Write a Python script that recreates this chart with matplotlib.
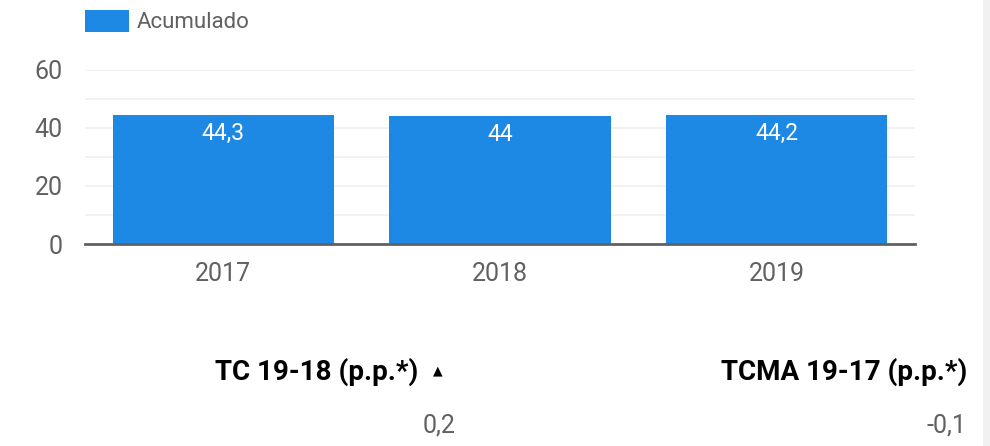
import matplotlib
matplotlib.use("Agg")
import matplotlib.pyplot as plt
from matplotlib.patches import Rectangle

categories = ["2017", "2018", "2019"]
values = [44.3, 44.0, 44.2]
value_labels = ["44,3", "44", "44,2"]
series_name = "Acumulado"
yticks = [0, 20, 40, 60]
kpi_titles = ["TC 19-18 (p.p.*)", "TCMA 19-17 (p.p.*)"]
kpi_values = ["0,2", "-0,1"]

BLUE = "#1e88e5"
GRAY = "#616161"

plt.rcParams['font.family'] = ['Roboto', 'DejaVu Sans']

fig = plt.figure(figsize=(9.9, 4.46), dpi=100)
fig.patch.set_facecolor("white")
fig.patches.append(Rectangle((983/990, 0), 7/990, 1, transform=fig.transFigure,
                             facecolor="#f1f1f1", edgecolor="none"))

ax = fig.add_axes([85/990, (446-244)/446, 830/990, (244-69.5)/446])
x = range(len(categories))
bars = ax.bar(x, values, width=0.8, color=BLUE, zorder=3, label=series_name)
ax.set_xlim(-0.5, 2.5)
ax.set_ylim(0, 60)
ax.set_yticks(yticks)
ax.set_yticks(range(0, 61, 10), minor=True)
ax.grid(axis="y", which="both", color="#f0f0f0", linewidth=1.2, zorder=0)
ax.tick_params(axis="y", which="both", length=0, labelsize=18, labelcolor=GRAY, pad=16)
ax.set_xticks(list(x))
ax.set_xticklabels(categories)
ax.tick_params(axis="x", length=0, labelsize=18, labelcolor=GRAY, pad=13)
for s in ["top", "right", "left"]:
    ax.spines[s].set_visible(False)
ax.spines["bottom"].set_color(GRAY)
ax.spines["bottom"].set_linewidth(2)
ax.spines["bottom"].set_zorder(4)

for b, lab in zip(bars, value_labels):
    ax.annotate(lab, (b.get_x() + b.get_width()/2, b.get_height()),
                xytext=(0, -5), textcoords="offset points",
                ha="center", va="top", color="white", fontsize=16.5, zorder=5)

# legend
fig.patches.append(Rectangle((85/990, 1-32/446), 44/990, 22/446, transform=fig.transFigure,
                             facecolor=BLUE, edgecolor="none"))
fig.text(137/990, 1-22/446, series_name, ha="left", va="center", fontsize=16, color=GRAY)

# KPI texts
fig.text(418/990, 1-372/446, kpi_titles[0], ha="right", va="center", fontsize=20,
         fontweight="bold", color="black")
fig.text(438/990, 1-371/446, "▲", ha="center", va="center", fontsize=9, color="black",
         family=['DejaVu Sans'])
fig.text(967/990, 1-372/446, kpi_titles[1], ha="right", va="center", fontsize=20,
         fontweight="bold", color="black")
fig.text(455/990, 1-426/446, kpi_values[0], ha="right", va="center", fontsize=18, color=GRAY)
fig.text(966/990, 1-426/446, kpi_values[1], ha="right", va="center", fontsize=18, color=GRAY)

fig.savefig("out.png", dpi=100, facecolor="white")
